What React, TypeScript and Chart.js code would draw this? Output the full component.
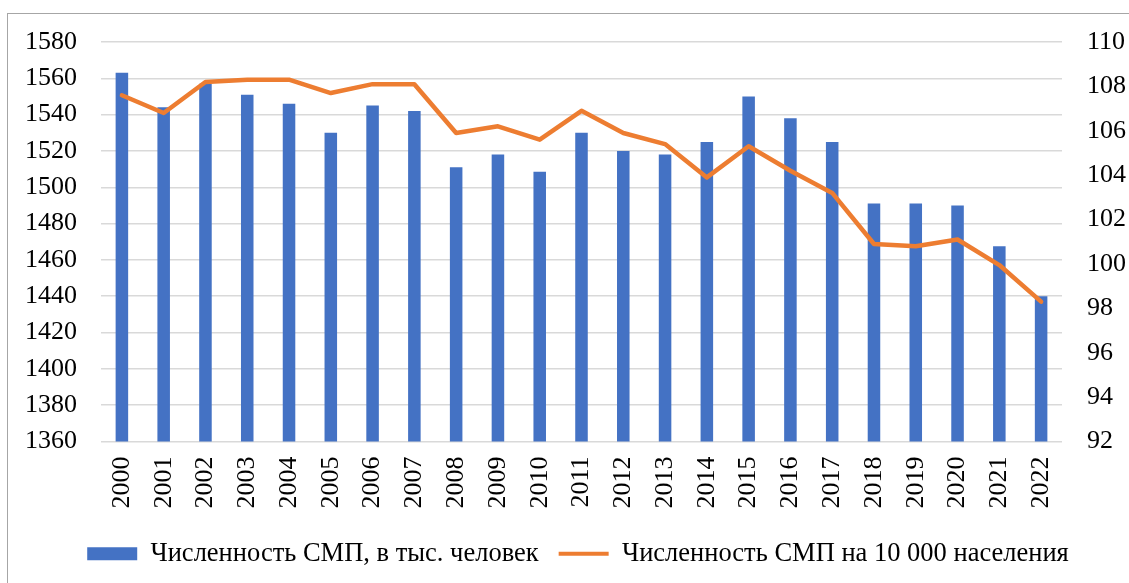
import React, { useEffect, useRef } from "react";
import { Chart, registerables } from "chart.js";

Chart.register(...registerables);

const years = [
  "2000", "2001", "2002", "2003", "2004", "2005", "2006", "2007", "2008", "2009", "2010", "2011",
  "2012", "2013", "2014", "2015", "2016", "2017", "2018", "2019", "2020", "2021", "2022",
];
const staffThousands = [
  1563, 1544, 1557, 1551, 1546, 1530, 1545, 1542, 1511, 1518, 1508.5, 1530,
  1520, 1518, 1525, 1550, 1538, 1525, 1491, 1491, 1490, 1467.5, 1440,
];
const staffPer10k = [
  107.6, 106.8, 108.2, 108.3, 108.3, 107.7, 108.1, 108.1, 105.9, 106.2, 105.6, 106.9,
  105.9, 105.4, 103.9, 105.3, 104.2, 103.2, 100.9, 100.8, 101.1, 99.95, 98.3,
];
const seriesNames = ["Численность СМП, в тыс. человек", "Численность СМП на 10 000 населения"];
const leftAxis = { min: 1360, max: 1580, step: 20 };
const rightAxis = { min: 92, max: 110, step: 2 };

const BLUE = "#4472C4";
const ORANGE = "#ED7D31";
const FONT = "'Liberation Serif', 'Times New Roman', serif";
const FS = 26;

export default function App() {
  const ref = useRef<HTMLCanvasElement | null>(null);

  useEffect(() => {
    if (!ref.current) return;
    const chart = new Chart(ref.current, {
      type: "bar",
      data: {
        labels: years,
        datasets: [
          {
            type: "bar",
            label: seriesNames[0],
            data: staffThousands,
            backgroundColor: BLUE,
            borderWidth: 0,
            barPercentage: 0.6,
            categoryPercentage: 0.5,
            yAxisID: "y",
            order: 1,
          },
          {
            type: "line",
            label: seriesNames[1],
            data: staffPer10k,
            borderColor: ORANGE,
            backgroundColor: ORANGE,
            borderWidth: 4.5,
            borderCapStyle: "round",
            borderJoinStyle: "round",
            pointRadius: 0,
            tension: 0,
            yAxisID: "y1",
            order: 0,
          },
        ],
      } as any,
      options: {
        responsive: false,
        animation: false,
        layout: { padding: { top: 42, bottom: 6, left: 27, right: 0 } },
        plugins: {
          tooltip: { enabled: false },
          legend: {
            position: "bottom",
            labels: {
              usePointStyle: true,
              pointStyleWidth: 50,
              boxHeight: 13,
              padding: 20,
              color: "#000",
              font: { family: FONT, size: 26.5 },
              generateLabels: () => [
                {
                  text: seriesNames[0],
                  fillStyle: BLUE,
                  strokeStyle: BLUE,
                  lineWidth: 0,
                  pointStyle: "rect",
                  datasetIndex: 0,
                  hidden: false,
                  fontColor: "#000",
                } as any,
                {
                  text: seriesNames[1],
                  fillStyle: ORANGE,
                  strokeStyle: ORANGE,
                  lineWidth: 4,
                  pointStyle: "line",
                  datasetIndex: 1,
                  hidden: false,
                  fontColor: "#000",
                } as any,
              ],
            },
          },
        },
        scales: {
          x: {
            offset: true,
            grid: { display: false, drawTicks: false },
            border: { display: false },
            ticks: {
              color: "#000",
              font: { family: FONT, size: FS },
              minRotation: 90,
              maxRotation: 90,
              padding: 15,
              autoSkip: false,
            },
            afterFit: (s: any) => {
              s.height = 79;
            },
          },
          y: {
            position: "left",
            min: leftAxis.min,
            max: leftAxis.max,
            grid: { color: "#D9D9D9", lineWidth: 1.5, drawTicks: false },
            border: { display: false },
            ticks: {
              stepSize: leftAxis.step,
              color: "#000",
              font: { family: FONT, size: FS },
              padding: 24,
              callback: (v: any) => String(v),
            },
            afterFit: (s: any) => {
              s.width = 74;
            },
          },
          y1: {
            position: "right",
            min: rightAxis.min,
            max: rightAxis.max,
            grid: { display: false, drawTicks: false },
            border: { display: false },
            ticks: {
              stepSize: rightAxis.step,
              color: "#000",
              font: { family: FONT, size: FS },
              padding: 25,
              callback: (v: any) => String(v),
            },
            afterFit: (s: any) => {
              s.width = 67;
            },
          },
        },
      } as any,
    });
    return () => chart.destroy();
  }, []);

  return (
    <div style={{ position: "fixed", left: 0, top: 0, width: 1129, height: 583, background: "#fff", overflow: "hidden" }}>
      <div
        style={{
          position: "absolute",
          left: 7,
          top: 13,
          width: 1300,
          height: 800,
          border: "1px solid #A6A6A6",
          boxSizing: "border-box",
        }}
      />
      <canvas ref={ref} width={1129} height={583} style={{ position: "absolute", left: 0, top: 0 }} />
    </div>
  );
}
